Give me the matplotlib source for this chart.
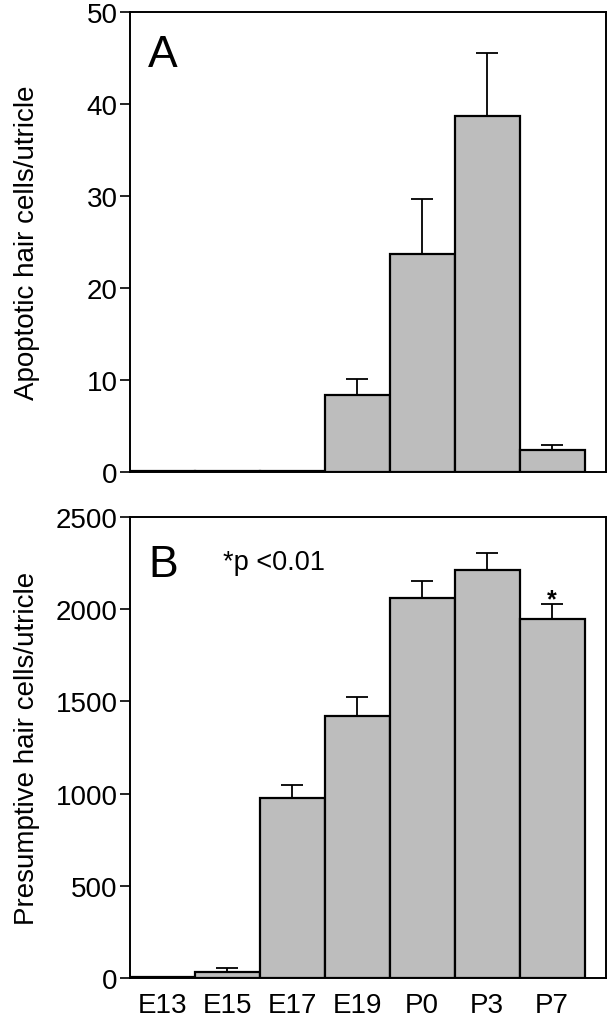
import numpy as np
import matplotlib
matplotlib.use("Agg")
import matplotlib.pyplot as plt

plt.rcParams['font.family'] = ['Liberation Sans', 'DejaVu Sans']

stages = ["E13", "E15", "E17", "E19", "P0", "P3", "P7"]

# panel A: apoptotic hair cells per utricle (mean, upper SEM)
apoptotic = [0.1, 0.1, 0.1, 8.4, 23.7, 38.7, 2.4]
apoptotic_err = [0.0, 0.0, 0.0, 1.7, 6.0, 6.8, 0.5]

# panel B: presumptive hair cells per utricle
presumptive = [5, 34, 978, 1422, 2062, 2213, 1945]
presumptive_err = [0, 20, 70, 103, 91, 92, 82]

bar_color = "#bdbdbd"

fig = plt.figure(figsize=(6.14, 10.20), dpi=100)
axA = fig.add_axes([0.2117, 0.5363, 0.7752, 0.451])
axB = fig.add_axes([0.2117, 0.0402, 0.7752, 0.452])

x = np.arange(len(stages))


def draw(ax, vals, errs, ymax, ystep, ylabel):
    ax.bar(x, vals, width=1.0, color=bar_color, edgecolor="black",
           linewidth=1.6, zorder=2)
    ax.errorbar(x, vals, yerr=[np.zeros(len(vals)), errs], fmt="none",
                ecolor="black", elinewidth=1.3, capsize=8, capthick=1.3,
                zorder=1)
    ax.set_xlim(-0.5, 6.83)
    ax.set_ylim(0, ymax)
    ax.set_yticks(np.arange(0, ymax + 1, ystep))
    ax.tick_params(axis="y", direction="out", length=7, width=1.2,
                   labelsize=20, pad=2)
    ax.tick_params(axis="x", length=0, labelsize=20, pad=10)
    for s in ax.spines.values():
        s.set_linewidth(1.4)
    ax.set_ylabel(ylabel, fontsize=20)
    ax.yaxis.set_label_coords(-0.19, 0.5)


draw(axA, apoptotic, apoptotic_err, 50, 10, "Apoptotic hair cells/utricle")
axA.set_xticks([])
axA.text(0.038, 0.907, "A", transform=axA.transAxes, fontsize=32,
         va="center", ha="left")

draw(axB, presumptive, presumptive_err, 2500, 500,
     "Presumptive hair cells/utricle")
axB.set_xticks(x)
axB.set_xticklabels(stages)
axB.text(0.038, 0.896, "B", transform=axB.transAxes, fontsize=32,
         va="center", ha="left")
axB.text(0.196, 0.902, "*p <0.01", transform=axB.transAxes, fontsize=19.5,
         va="center", ha="left")
axB.text(x[6], presumptive[6] + presumptive_err[6] - 40, "*",
         fontsize=18, fontweight="bold", ha="center", va="bottom")

fig.savefig("out.png", dpi=100)
